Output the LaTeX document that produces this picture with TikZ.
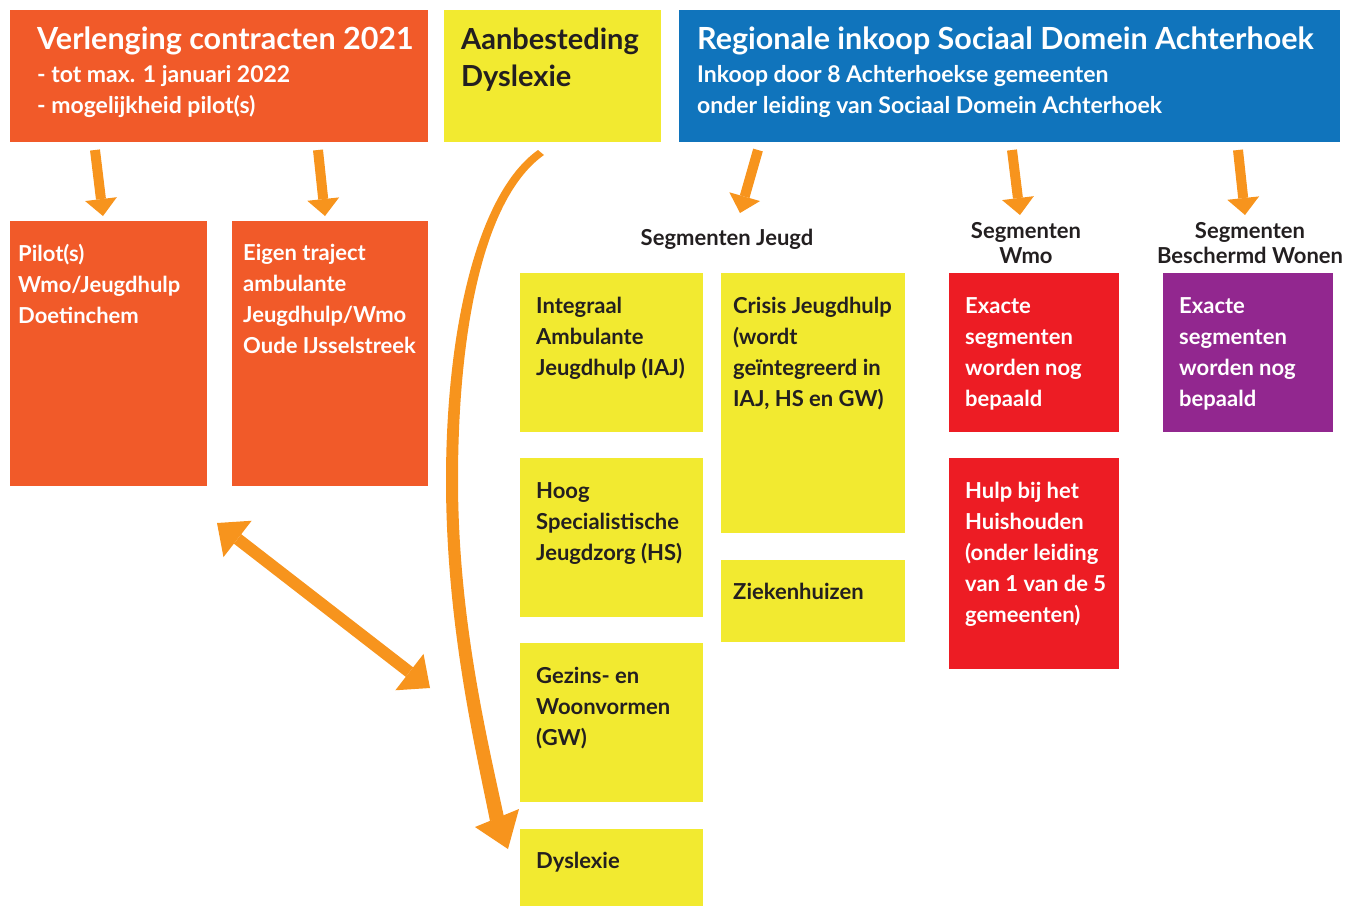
\documentclass[tikz,border=0pt]{standalone}
\usepackage{fontspec}
\setmainfont{Lato}
\usetikzlibrary{arrows.meta,calc}

\definecolor{oranjebox}{HTML}{F15A29}
\definecolor{geelbox}{HTML}{F2EA30}
\definecolor{blauwbox}{HTML}{1074BC}
\definecolor{roodbox}{HTML}{ED1C24}
\definecolor{paarsbox}{HTML}{92278F}
\definecolor{pijl}{HTML}{F7941D}
\definecolor{donker}{HTML}{231F20}

\tikzset{
    blok/.style={anchor=north west, inner sep=0pt, outer sep=0pt},
    oblok/.style={blok, fill=oranjebox},
    gblok/.style={blok, fill=geelbox},
    bblok/.style={blok, fill=blauwbox},
    rblok/.style={blok, fill=roodbox},
    pblok/.style={blok, fill=paarsbox},
    tekst/.style={anchor=north west, inner sep=0pt, align=left, font=\fontsize{22}{31}\selectfont\bfseries},
    wtekst/.style={tekst, text=white},
    dtekst/.style={tekst, text=donker},
    subtekst/.style={wtekst, font=\fontsize{23}{31}\selectfont\bfseries},
    kop/.style={anchor=base west, inner sep=0pt, text=white, font=\fontsize{30.5}{36}\selectfont\bfseries},
    segm/.style={inner sep=0pt, align=center, text=donker, font=\fontsize{22}{25}\selectfont\bfseries},
    pijlr/.style={draw=pijl, line width=10pt, -{Triangle[width=32pt,length=17pt,line width=0pt]}},
    dpijl/.style={draw=pijl, line width=12pt, {Triangle[width=46pt,length=26pt,line width=0pt]}-{Triangle[width=46pt,length=26pt,line width=0pt]}}
}

\begin{document}
\begin{tikzpicture}[x=1pt,y=-1pt]
    \useasboundingbox (0,0) rectangle (1350,906);

    % bovenste rij
    \node[oblok, minimum width=418pt, minimum height=132pt] (verl) at (10,10) {};
    \node[gblok, minimum width=217pt, minimum height=132pt] (aanb) at (444,10) {};
    \node[bblok, minimum width=661pt, minimum height=132pt] (reg) at (679,10) {};

    \node[kop] at ([shift={(27,39)}]verl.north west) {Verlenging contracten 2021};
    \node[subtekst] at ([shift={(27,55)}]verl.north west) {- tot max. 1 januari 2022\\- mogelijkheid pilot(s)};
    \node[anchor=north west, inner sep=0pt, align=left, text=donker, font=\fontsize{29}{37}\selectfont\bfseries]
        at ([shift={(17,18)}]aanb.north west) {Aanbesteding\\Dyslexie};
    \node[kop] at ([shift={(18,39)}]reg.north west) {Regionale inkoop Sociaal Domein Achterhoek};
    \node[subtekst] at ([shift={(18,55)}]reg.north west) {Inkoop door 8 Achterhoekse gemeenten\\onder leiding van Sociaal Domein Achterhoek};

    % verlenging
    \node[oblok, minimum width=197pt, minimum height=265pt] (pilot) at (10,221) {};
    \node[oblok, minimum width=196pt, minimum height=265pt] (eigen) at (232,221) {};
    \node[wtekst] at ([shift={(8,23)}]pilot.north west) {Pilot(s)\\Wmo/Jeugdhulp\\Doetinchem};
    \node[wtekst] at ([shift={(11,23)}]eigen.north west) {Eigen traject\\ambulante\\Jeugdhulp/Wmo\\Oude IJsselstreek};

    % segmenten jeugd
    \node[segm, anchor=base] (segj) at (727,245) {Segmenten Jeugd};
    \node[gblok, minimum width=183pt, minimum height=159pt] (iaj) at (520,273) {};
    \node[gblok, minimum width=184pt, minimum height=260pt] (crisis) at (721,273) {};
    \node[gblok, minimum width=183pt, minimum height=159pt] (hs) at (520,458) {};
    \node[gblok, minimum width=184pt, minimum height=82pt] (zh) at (721,560) {};
    \node[gblok, minimum width=183pt, minimum height=159pt] (gw) at (520,643) {};
    \node[gblok, minimum width=183pt, minimum height=77pt] (dys) at (520,829) {};
    \node[dtekst] at ([shift={(16,24)}]iaj.north west) {Integraal\\Ambulante\\Jeugdhulp (IAJ)};
    \node[dtekst] at ([shift={(12,24)}]crisis.north west) {Crisis Jeugdhulp\\(wordt\\geïntegreerd in\\IAJ, HS en GW)};
    \node[dtekst] at ([shift={(16,24)}]hs.north west) {Hoog\\Specialistische\\Jeugdzorg (HS)};
    \node[dtekst] at ([shift={(12,23)}]zh.north west) {Ziekenhuizen};
    \node[dtekst] at ([shift={(16,24)}]gw.north west) {Gezins- en\\Woonvormen\\(GW)};
    \node[dtekst] at ([shift={(16,23)}]dys.north west) {Dyslexie};

    % segmenten wmo en beschermd wonen
    \node[segm, anchor=north] (segw) at (1026,222) {Segmenten\\Wmo};
    \node[segm, anchor=north] (segbw) at (1250,222) {Segmenten\\Beschermd Wonen};
    \node[rblok, minimum width=170pt, minimum height=159pt] (wmo) at (949,273) {};
    \node[rblok, minimum width=170pt, minimum height=211pt] (hbh) at (949,458) {};
    \node[pblok, minimum width=170pt, minimum height=159pt] (bw) at (1163,273) {};
    \node[wtekst] at ([shift={(16,24)}]wmo.north west) {Exacte\\segmenten\\worden nog\\bepaald};
    \node[wtekst] at ([shift={(16,24)}]hbh.north west) {Hulp bij het\\Huishouden\\(onder leiding\\van 1 van de 5\\gemeenten)};
    \node[wtekst] at ([shift={(16,24)}]bw.north west) {Exacte\\segmenten\\worden nog\\bepaald};

    % pijlen
    \draw[pijlr] ($(verl.south west)+(85,8)$) -- ($(pilot.north west)+(93,-5)$);
    \draw[pijlr] ($(verl.south west)+(308,8)$) -- ($(eigen.north west)+(93,-5)$);
    \draw[pijlr] ($(reg.south west)+(79,8)$) -- ($(segj.base)+(13,-32)$);
    \draw[pijlr] ($(reg.south west)+(333,8)$) -- ($(wmo.north west)+(71,-58)$);
    \draw[pijlr] ($(reg.south west)+(559,8)$) -- ($(bw.north west)+(82,-58)$);
    \draw[dpijl] ($(pilot.south east)+(10,37)$) -- ($(gw.north west)+(-90,45)$);

    % gebogen pijl naar dyslexie
    \fill[pijl] (538,150) .. controls (477,193) and (446,330) .. (446,480)
        .. controls (446,622) and (474,742) .. (490,821)
        -- (504,817) .. controls (487,738) and (458,618) .. (458,480)
        .. controls (458,332) and (483,198) .. (544,155) -- cycle;
    \fill[pijl] (475,827) -- (508,849) -- (519,809) -- cycle;
\end{tikzpicture}
\end{document}
